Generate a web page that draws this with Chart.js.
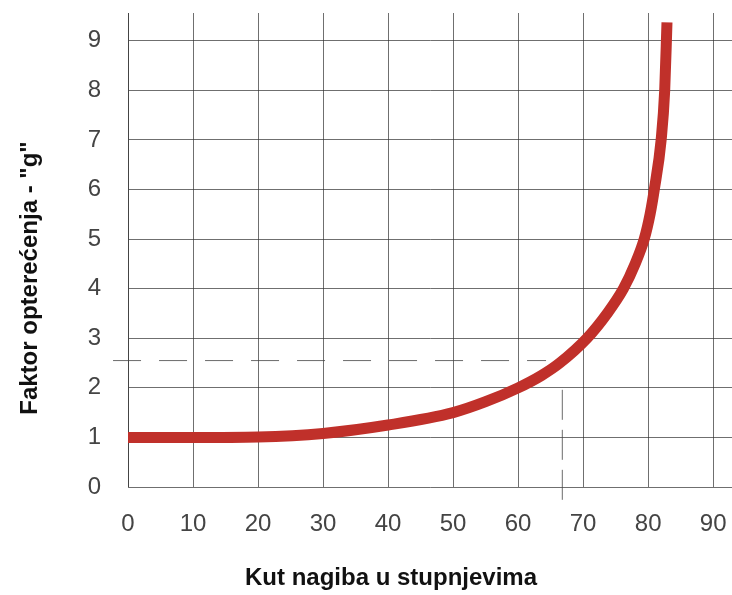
<!DOCTYPE html>
<html>
<head>
<meta charset="utf-8">
<script src="https://cdn.jsdelivr.net/npm/chart.js@4.4.1/dist/chart.umd.min.js"></script>
<style>
    html, body { margin: 0; padding: 0; background: #fff; }
    #wrap { width: 732px; height: 595px; position: relative; }
</style>
</head>
<body>
<div id="wrap"><canvas id="chart"></canvas></div>
<script>
// kut nagiba (stupnjevi) i faktor opterecenja, ocitano s grafa
const angles = [0, 10, 20, 30, 40, 50, 55, 60, 63.6, 66.4, 70.6, 73.7, 76.2, 78.0, 79.4, 80.3, 80.95, 82.0, 82.55, 82.9];
const loadFactor = [1.0, 1.0, 1.01, 1.08, 1.25, 1.5, 1.72, 2.0, 2.25, 2.5, 3.0, 3.5, 4.0, 4.5, 5.0, 5.5, 6.0, 7.0, 8.0, 9.37];

// isprekidane linije za primjer 2.5 g
const refX = [-2.3, 64.3];
const refY = [2.55, 2.55];
const refVX = [66.8, 66.8];
const refVY = [1.96, -0.36];

const xTicks = [0, 10, 20, 30, 40, 50, 60, 70, 80, 90];
const yTicks = [0, 1, 2, 3, 4, 5, 6, 7, 8, 9];

const xTitle = 'Kut nagiba u stupnjevima';
const yTitle = 'Faktor opterećenja - "g"';

const toPoints = (xs, ys) => xs.map((x, i) => ({ x: x, y: ys[i] }));

const titlesPlugin = {
    id: 'axisTitles',
    afterDraw(chart) {
        const ctx = chart.ctx;
        ctx.save();
        ctx.fillStyle = '#111';
        ctx.font = 'bold 24px "Liberation Sans", Arial, sans-serif';
        ctx.textAlign = 'center';
        ctx.textBaseline = 'middle';
        ctx.fillText(xTitle, 391, 578);
        ctx.translate(30, 278);
        ctx.rotate(-Math.PI / 2);
        ctx.fillText(yTitle, 0, 0);
        ctx.restore();
    }
};

const gridColor = 'rgba(50,50,50,0.7)';
const tickFont = { family: '"Liberation Sans", Arial, sans-serif', size: 24 };

new Chart(document.getElementById('chart'), {
    type: 'line',
    data: {
        datasets: [
            {
                data: toPoints(angles, loadFactor),
                borderColor: '#c0302a',
                borderWidth: 11,
                borderCapStyle: 'butt',
                cubicInterpolationMode: 'monotone',
                pointRadius: 0,
                fill: false
            },
            {
                data: toPoints(refX, refY),
                borderColor: 'rgba(70,70,70,0.8)',
                borderWidth: 1,
                borderDash: [28, 18],
                pointRadius: 0,
                clip: false
            },
            {
                data: toPoints(refVX, refVY),
                borderColor: 'rgba(70,70,70,0.8)',
                borderWidth: 1,
                borderDash: [30, 10],
                pointRadius: 0,
                clip: false
            }
        ]
    },
    options: {
        responsive: true,
        maintainAspectRatio: false,
        animation: false,
        layout: { padding: { top: 13, right: 0, left: 0, bottom: 0 } },
        plugins: {
            legend: { display: false },
            tooltip: { enabled: false }
        },
        scales: {
            x: {
                type: 'linear',
                min: 0,
                max: 92.9,
                afterBuildTicks: (scale) => { scale.ticks = xTicks.map(v => ({ value: v })); },
                afterFit: (scale) => {
                    scale.height = 108;
                    scale.paddingLeft = 0;
                    scale.paddingRight = 0;
                },
                grid: { color: gridColor, lineWidth: 1, drawTicks: false },
                border: { display: false },
                ticks: {
                    color: '#444',
                    font: tickFont,
                    padding: 23,
                    maxRotation: 0
                }
            },
            y: {
                type: 'linear',
                min: 0,
                max: 9.56,
                afterBuildTicks: (scale) => { scale.ticks = yTicks.map(v => ({ value: v })); },
                afterFit: (scale) => {
                    scale.width = 128;
                    scale.paddingTop = 0;
                    scale.paddingBottom = 0;
                },
                grid: { color: gridColor, lineWidth: 1, drawTicks: false },
                border: { display: true, color: gridColor },
                ticks: {
                    color: '#444',
                    font: tickFont,
                    padding: 27
                }
            }
        }
    },
    plugins: [titlesPlugin]
});
</script>
</body>
</html>
